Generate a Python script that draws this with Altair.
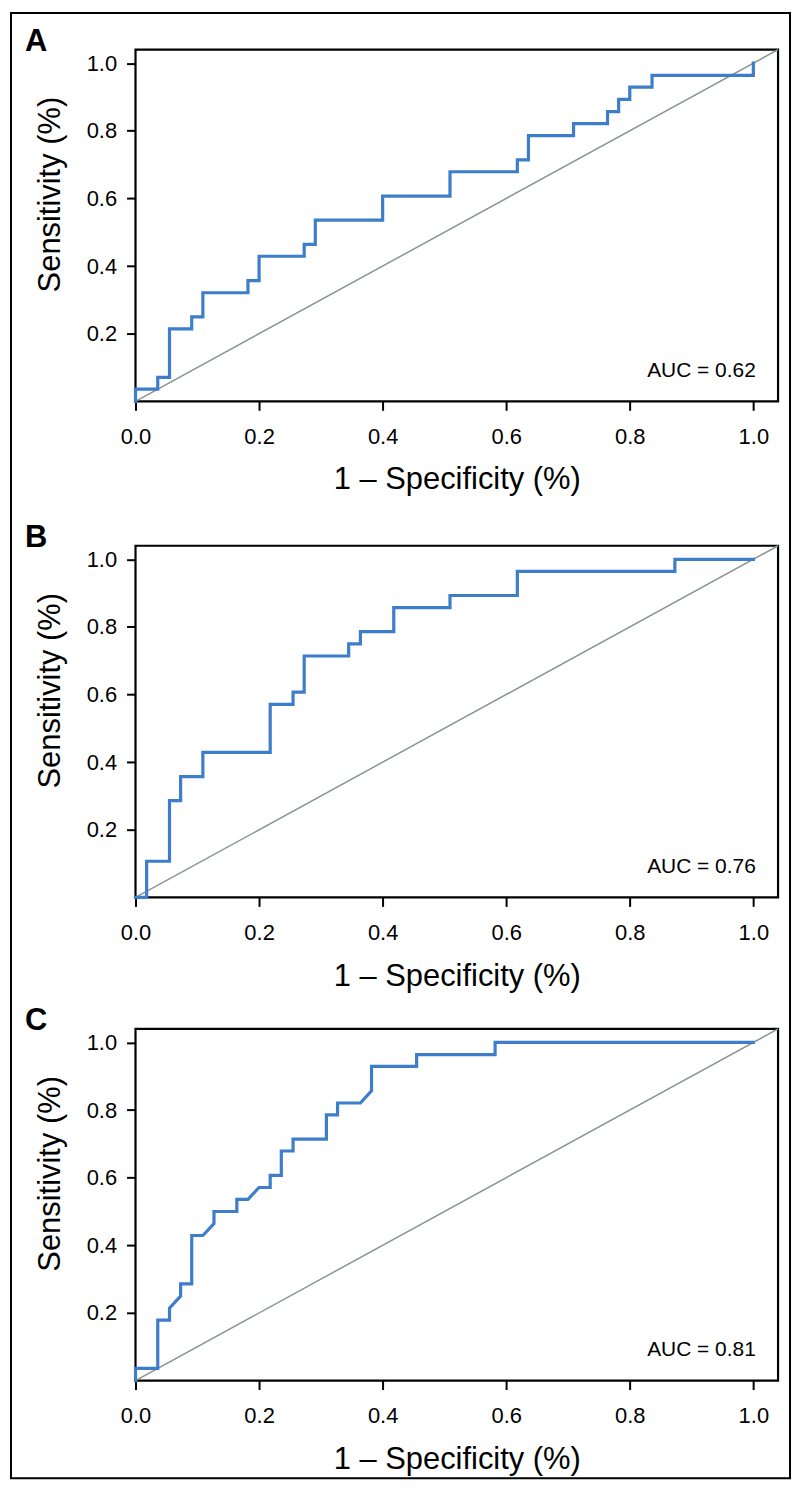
import altair as alt
import pandas as pd

FONT = "Liberation Sans, Arial, Helvetica, sans-serif"
BLUE = "#3d7dca"
GRAY = "#8a9590"

# ROC curve vertices (1 - specificity, sensitivity)
a_fpr = [0.0, 0.0, 0.036, 0.036, 0.055, 0.055, 0.091, 0.091, 0.109, 0.109, 0.182, 0.182,
         0.200, 0.200, 0.273, 0.273, 0.291, 0.291, 0.400, 0.400, 0.509, 0.509, 0.618, 0.618,
         0.636, 0.636, 0.709, 0.709, 0.764, 0.764, 0.782, 0.782, 0.800, 0.800, 0.836, 0.836,
         1.0, 1.0]
a_tpr = [0.0, 0.036, 0.036, 0.071, 0.071, 0.214, 0.214, 0.250, 0.250, 0.321, 0.321, 0.357,
         0.357, 0.429, 0.429, 0.464, 0.464, 0.536, 0.536, 0.607, 0.607, 0.679, 0.679, 0.714,
         0.714, 0.786, 0.786, 0.821, 0.821, 0.857, 0.857, 0.893, 0.893, 0.929, 0.929, 0.964,
         0.964, 1.0]

b_fpr = [0.0, 0.018, 0.018, 0.055, 0.055, 0.073, 0.073, 0.109, 0.109, 0.218, 0.218, 0.255,
         0.255, 0.273, 0.273, 0.345, 0.345, 0.364, 0.364, 0.418, 0.418, 0.509, 0.509, 0.618,
         0.618, 0.873, 0.873, 1.0]
b_tpr = [0.0, 0.0, 0.107, 0.107, 0.286, 0.286, 0.357, 0.357, 0.429, 0.429, 0.571, 0.571,
         0.607, 0.607, 0.714, 0.714, 0.750, 0.750, 0.786, 0.786, 0.857, 0.857, 0.893, 0.893,
         0.964, 0.964, 1.0, 1.0]

c_fpr = [0.0, 0.0, 0.036, 0.036, 0.055, 0.055, 0.073, 0.073, 0.091, 0.091, 0.109, 0.127,
         0.127, 0.164, 0.164, 0.182, 0.200, 0.218, 0.218, 0.236, 0.236, 0.255, 0.255, 0.309,
         0.309, 0.327, 0.327, 0.364, 0.382, 0.382, 0.455, 0.455, 0.582, 0.582, 1.0]
c_tpr = [0.0, 0.036, 0.036, 0.179, 0.179, 0.214, 0.250, 0.286, 0.286, 0.429, 0.429, 0.464,
         0.500, 0.500, 0.536, 0.536, 0.571, 0.571, 0.607, 0.607, 0.679, 0.679, 0.714, 0.714,
         0.786, 0.786, 0.821, 0.821, 0.857, 0.929, 0.929, 0.964, 0.964, 1.0, 1.0]

panel_letters = ["A", "B", "C"]
auc_labels = ["AUC = 0.62", "AUC = 0.76", "AUC = 0.81"]
auc_pos = [1.004, 0.073]
diag_vals = [0.0, 1.04]
x_ticks = [0.0, 0.2, 0.4, 0.6, 0.8, 1.0]
y_ticks = [0.2, 0.4, 0.6, 0.8, 1.0]

W, H = 645, 353


def panel(letter, fpr, tpr, auc, border=False):
    xs = alt.Scale(domain=[0, 1.04], nice=False, zero=False)
    ys = alt.Scale(domain=[0, 1.04], nice=False, zero=False)
    xaxis = alt.Axis(values=x_ticks, format=".1f", title="1 – Specificity (%)",
                     labelFontSize=22, labelFont=FONT, labelColor="black", labelPadding=16,
                     labelFlush=False, labelOverlap=False, labelBound=False,
                     tickSize=9, tickWidth=2, tickColor="black", domain=False, grid=False,
                     titleFontSize=31, titleFont=FONT, titleFontWeight="normal",
                     titleColor="black", titleX=W / 2, titleY=88, titleAlign="center",
                     titleBaseline="alphabetic")
    yaxis = alt.Axis(values=y_ticks, format=".1f", title="Sensitivity (%)",
                     labelFontSize=22, labelFont=FONT, labelColor="black", labelPadding=10,
                     labelFlush=False, labelOverlap=False, labelBound=False,
                     tickSize=9, tickWidth=2, tickColor="black", domain=False, grid=False,
                     titleFontSize=31, titleFont=FONT, titleFontWeight="normal",
                     titleColor="black", titleX=-76, titleY=145, titleAngle=270,
                     titleAlign="center", titleBaseline="alphabetic")

    diag = alt.Chart(pd.DataFrame({"fpr": diag_vals, "tpr": diag_vals})).mark_line(
        color=GRAY, strokeWidth=1.5).encode(
        x=alt.X("fpr:Q", scale=xs, axis=xaxis),
        y=alt.Y("tpr:Q", scale=ys, axis=yaxis))

    roc = pd.DataFrame({"fpr": fpr, "tpr": tpr, "i": list(range(len(fpr)))})
    line = alt.Chart(roc).mark_line(color=BLUE, strokeWidth=3.2, strokeJoin="miter",
                                    strokeCap="square").encode(
        x=alt.X("fpr:Q", scale=xs),
        y=alt.Y("tpr:Q", scale=ys),
        order=alt.Order("i:Q"))

    auc_text = alt.Chart(pd.DataFrame({"fpr": [auc_pos[0]], "tpr": [auc_pos[1]],
                                       "t": [auc]})).mark_text(
        align="right", baseline="alphabetic", fontSize=21, font=FONT, color="black").encode(
        x=alt.X("fpr:Q", scale=xs), y=alt.Y("tpr:Q", scale=ys), text="t:N")

    letter_text = alt.Chart(pd.DataFrame({"t": [letter]})).mark_text(
        align="left", baseline="alphabetic", fontSize=31, font=FONT, fontWeight="bold",
        color="black").encode(x=alt.value(-111), y=alt.value(1), text="t:N")

    layers = [diag, line, auc_text, letter_text]
    if border:
        frame = alt.Chart(pd.DataFrame({"k": [0]})).mark_rect(
            fillOpacity=0, stroke="black", strokeWidth=2).encode(
            x=alt.value(-125), x2=alt.value(657), y=alt.value(-36.7), y2=alt.value(1434))
        layers.append(frame)
    return alt.layer(*layers).properties(width=W, height=H)


def spacer(h):
    return alt.Chart(pd.DataFrame({"k": [0]})).mark_point(opacity=0).encode(
        x=alt.value(0), y=alt.value(0)).properties(
        width=W, height=h, view=alt.ViewBackground(stroke="transparent"))


pa = panel(panel_letters[0], a_fpr, a_tpr, auc_labels[0], border=True)
pb = panel(panel_letters[1], b_fpr, b_tpr, auc_labels[1])
pc = panel(panel_letters[2], c_fpr, c_tpr, auc_labels[2])

chart = alt.vconcat(pa, spacer(144.6), pb, spacer(132), pc, spacing=0, bounds="flush").resolve_scale(
    x="independent", y="independent").configure_view(stroke="black", strokeWidth=2.2).properties(
    padding=0, background="white")

chart.save("out.html", embed_options={"renderer": "svg", "actions": False})
